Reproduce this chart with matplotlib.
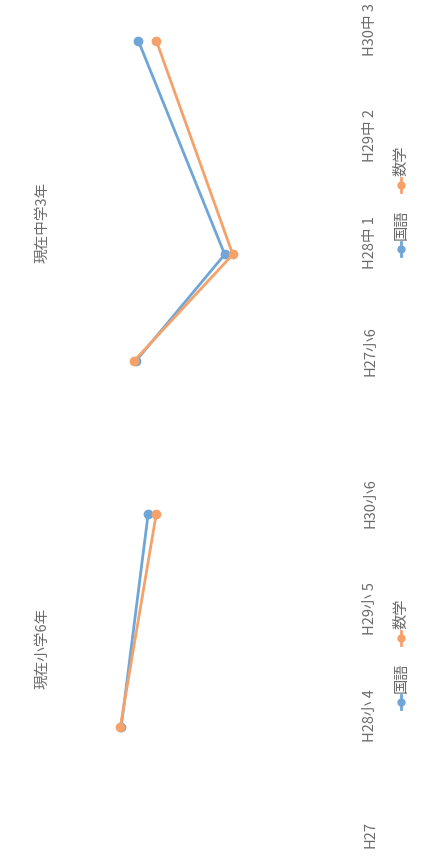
import matplotlib
matplotlib.use('Agg')
import matplotlib.pyplot as plt
from matplotlib.transforms import blended_transform_factory
import numpy as np

plt.rcParams['font.family'] = ['Noto Sans CJK JP', 'DejaVu Sans']

# Chart data (value scale is a score, higher = better)
titles = ['現在中学3年', '現在小学6年']
categories = [
    ['H27小6', 'H28中 1', 'H29中 2', 'H30中 3'],
    ['H27', 'H28小 4', 'H29小 5', 'H30小6'],
]
series_names = ['国語', '数学']
kokugo = [
    [61.6, 51.7, np.nan, 61.3],
    [np.nan, 63.2, np.nan, 60.2],
]
sugaku = [
    [61.8, 50.8, np.nan, 59.3],
    [np.nan, 63.3, np.nan, 59.3],
]
colors = ['#6fa6d8', '#f5a26a']
text_color = '#6b6b6b'

W, H = 425, 862
fig = plt.figure(figsize=(W / 100, H / 100), dpi=100)
fig.patch.set_facecolor('white')


def px_axes(left, top, right, bottom):
    # pixel box (from top-left) -> figure fraction rect
    return [left / W, 1 - bottom / H, (right - left) / W, (bottom - top) / H]


# each panel is drawn turned on its side: categories run bottom->top,
# values increase to the left
panels = [
    dict(box=(60, 15, 330, 389), title_y=222, legend_y=257),
    dict(box=(60, 488, 330, 861), title_y=648, legend_y=710),
]

for i, p in enumerate(panels):
    ax = fig.add_axes(px_axes(*p['box']))
    ax.set_xlim(70, 40)
    ax.set_ylim(-0.25, 3.25)
    for s in ax.spines.values():
        s.set_visible(False)
    ax.set_xticks([])
    ax.set_yticks([])
    ax.patch.set_alpha(0)

    idx = np.arange(len(categories[i]))
    for vals, c in zip([kokugo[i], sugaku[i]], colors):
        v = np.array(vals, dtype=float)
        m = ~np.isnan(v)
        ax.plot(v[m], idx[m], color=c, lw=2, marker='o', ms=6, zorder=3)

    # category labels along the right edge
    tr = blended_transform_factory(fig.transFigure, ax.transData)
    for k, lab in enumerate(categories[i]):
        ax.text(370 / W, k - 0.13, lab, transform=tr, rotation=90,
                ha='center', va='bottom', fontsize=10.5, color=text_color)

    # title along the left edge
    fig.text(42 / W, 1 - p['title_y'] / H, titles[i], rotation=90,
             ha='center', va='center', fontsize=10.5, color=text_color)

    # legend: handle + label for each series, stacked upward
    y0 = p['legend_y']
    for name, c in zip(series_names, colors):
        fx = 401 / W
        fig.add_artist(plt.Line2D([fx, fx], [1 - y0 / H, 1 - (y0 - 14) / H],
                                  transform=fig.transFigure, color=c, lw=2))
        fig.add_artist(plt.Line2D([fx], [1 - (y0 - 7) / H], marker='o', ms=5,
                                  transform=fig.transFigure, color=c))
        fig.text(fx, 1 - (y0 - 17) / H, name, rotation=90, ha='center',
                 va='bottom', fontsize=11, color=text_color)
        y0 -= 64

fig.savefig('out.png', dpi=100, facecolor='white')
